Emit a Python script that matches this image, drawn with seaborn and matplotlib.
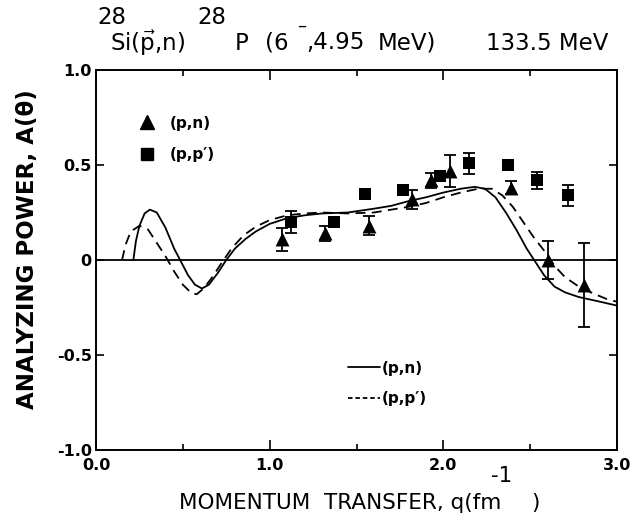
import matplotlib
matplotlib.use("Agg")
import matplotlib.pyplot as plt
from matplotlib.lines import Line2D
import seaborn as sns
import pandas as pd


# data
q_pn = [1.07, 1.32, 1.57, 1.82, 1.93, 2.04, 2.39, 2.60, 2.81]
a_pn = [0.11, 0.14, 0.18, 0.32, 0.42, 0.47, 0.38, 0.0, -0.13]
err_pn = [0.06, 0.04, 0.05, 0.05, 0.04, 0.085, 0.035, 0.10, 0.22]

q_pp = [1.12, 1.37, 1.55, 1.77, 1.98, 2.15, 2.37, 2.54, 2.72]
a_pp = [0.20, 0.20, 0.35, 0.37, 0.44, 0.51, 0.50, 0.42, 0.34]
err_pp = [0.06, 0.02, 0.02, 0.02, 0.02, 0.055, 0.02, 0.045, 0.055]

# calculated curves
q_th_pn = [0.215, 0.23, 0.25, 0.28, 0.31, 0.35, 0.40, 0.45, 0.49, 0.53, 0.57, 0.61, 0.65, 0.70,
           0.75, 0.80, 0.86, 0.92, 1.00, 1.10, 1.20, 1.30, 1.45, 1.60, 1.70, 1.80, 1.90,
           2.00, 2.10, 2.18, 2.24, 2.30, 2.36, 2.42, 2.48, 2.53, 2.58, 2.64, 2.70, 2.78,
           2.88, 3.00]
a_th_pn = [0.0, 0.10, 0.18, 0.245, 0.265, 0.25, 0.17, 0.06, -0.01, -0.08, -0.13, -0.15, -0.13,
           -0.07, 0.0, 0.06, 0.11, 0.15, 0.19, 0.22, 0.235, 0.245, 0.25, 0.27, 0.285, 0.31, 0.33,
           0.355, 0.375, 0.385, 0.375, 0.33, 0.25, 0.16, 0.06, -0.01, -0.08, -0.14, -0.17,
           -0.195, -0.215, -0.24]

q_th_pp = [0.15, 0.17, 0.20, 0.25, 0.30, 0.35, 0.40, 0.45, 0.50, 0.55, 0.58, 0.62, 0.67,
           0.72, 0.78, 0.85, 0.92, 1.00, 1.10, 1.20, 1.30, 1.45, 1.60, 1.70, 1.80, 1.90,
           2.00, 2.10, 2.20, 2.28, 2.34, 2.40, 2.46, 2.52, 2.58, 2.64, 2.70, 2.78, 2.86,
           2.94, 3.00]
a_th_pp = [0.0, 0.08, 0.15, 0.18, 0.16, 0.09, 0.02, -0.06, -0.13, -0.175, -0.18, -0.15, -0.09,
           -0.02, 0.06, 0.13, 0.175, 0.21, 0.235, 0.245, 0.25, 0.245, 0.25, 0.265, 0.28, 0.30,
           0.33, 0.355, 0.375, 0.375, 0.34, 0.28, 0.20, 0.12, 0.05, -0.03, -0.09, -0.14, -0.175,
           -0.205, -0.22]

x_ticks = [0.0, 1.0, 2.0, 3.0]
x_ticklabels = ["0.0", "1.0", "2.0", "3.0"]
y_ticks = [1.0, 0.5, 0.0, -0.5, -1.0]
y_ticklabels = ["1.0", "0.5", "0", "-0.5", "-1.0"]

df_pn = pd.DataFrame({"q": q_pn, "A": a_pn})
df_pp = pd.DataFrame({"q": q_pp, "A": a_pp})

sns.set_style("ticks")
plt.rcParams["font.family"] = ["DejaVu Sans"]
plt.rcParams["text.color"] = "black"
plt.rcParams["axes.labelcolor"] = "black"
plt.rcParams["xtick.color"] = "black"
plt.rcParams["ytick.color"] = "black"

fig = plt.figure(figsize=(6.35, 5.22), dpi=100)
ax = fig.add_axes([96 / 635, 1 - 450 / 522, 521 / 635, 380 / 522])

ax.axhline(0, color="black", lw=1.3, zorder=1)

sns.lineplot(x=q_th_pn, y=a_th_pn, ax=ax, color="black", lw=1.3, sort=False, estimator=None)
sns.lineplot(x=q_th_pp, y=a_th_pp, ax=ax, color="black", lw=1.3, sort=False, estimator=None,
             linestyle=(0, (5.5, 3.5)))

ax.errorbar(q_pn, a_pn, yerr=err_pn, fmt="none", ecolor="black", elinewidth=1.3,
            capsize=4, capthick=1.3, zorder=3)
ax.errorbar(q_pp, a_pp, yerr=err_pp, fmt="none", ecolor="black", elinewidth=1.3,
            capsize=4, capthick=1.3, zorder=3)
sns.scatterplot(data=df_pn, x="q", y="A", ax=ax, marker="^", s=100, color="black",
                edgecolor="black", linewidth=0, zorder=4)
sns.scatterplot(data=df_pp, x="q", y="A", ax=ax, marker="s", s=72, color="black",
                edgecolor="black", linewidth=0, zorder=4)

ax.set_xlim(0, 3.0)
ax.set_ylim(-1.0, 1.0)
ax.set_xlabel("")
ax.set_ylabel("")

ax.set_xticks(x_ticks)
ax.set_xticklabels(x_ticklabels, fontsize=11.5, fontweight="bold")
ax.set_xticks([0.5, 1.5, 2.5], minor=True)
ax.set_yticks(y_ticks)
ax.set_yticklabels(y_ticklabels, fontsize=11.5, fontweight="bold")
ax.tick_params(axis="x", which="major", direction="in", length=7, width=1.2,
               top=True, bottom=True, pad=6)
ax.tick_params(axis="x", which="minor", direction="in", length=4.5, width=1.2,
               top=True, bottom=True)
ax.tick_params(axis="y", which="major", direction="in", length=6, width=1.2,
               left=True, right=True, pad=3)
for sp in ax.spines.values():
    sp.set_visible(True)
    sp.set_linewidth(1.4)
    sp.set_color("black")

# legends
h_pn = Line2D([], [], marker="^", color="black", ls="none", markersize=10)
h_pp = Line2D([], [], marker="s", color="black", ls="none", markersize=8.5)
leg1 = ax.legend([h_pn, h_pp], ["(p,n)", "(p,p\u2032)"], loc="upper left",
                 bbox_to_anchor=(0.068, 0.90), frameon=False, borderpad=0,
                 handlelength=1.0, handletextpad=1.0, labelspacing=1.1,
                 prop={"size": 11, "weight": "bold"})
ax.add_artist(leg1)
h_l1 = Line2D([], [], color="black", lw=1.3)
h_l2 = Line2D([], [], color="black", lw=1.3, linestyle=(0, (2.5, 1.6)))
ax.legend([h_l1, h_l2], ["(p,n)", "(p,p\u2032)"], loc="upper left",
          bbox_to_anchor=(0.469, 0.255), frameon=False, borderpad=0,
          handlelength=2.1, handletextpad=0.1, labelspacing=1.0,
          prop={"size": 11, "weight": "bold"})

# title pieces
fs = 16.5
fig.text(97 / 635, 1 - 17 / 522, "28", fontsize=fs, va="center", ha="left")
fig.text(110 / 635, 1 - 43 / 522, r"Si($\vec{\mathrm{p}}$,n)", fontsize=fs, va="center", ha="left")
fig.text(197 / 635, 1 - 17 / 522, "28", fontsize=fs, va="center", ha="left")
fig.text(235 / 635, 1 - 43 / 522, "P", fontsize=fs, va="center", ha="left")
fig.text(265 / 635, 1 - 43 / 522, "(6", fontsize=fs, va="center", ha="left")
fig.text(297 / 635, 1 - 26 / 522, "\u2013", fontsize=13, va="center", ha="left")
fig.text(306 / 635, 1 - 43 / 522, ",4.95", fontsize=fs, va="center", ha="left")
fig.text(378 / 635, 1 - 43 / 522, "MeV)", fontsize=fs, va="center", ha="left")
fig.text(608 / 635, 1 - 43 / 522, "133.5 MeV", fontsize=fs, va="center", ha="right")

# axis labels
fig.text(28 / 635, 1 - 249 / 522, "ANALYZING POWER, A(\u03b8)", fontsize=16.5,
         fontweight="bold", rotation=90, va="center", ha="center")
fig.text(179 / 635, 1 - 503 / 522, "MOMENTUM  TRANSFER, q(fm", fontsize=15.5,
         va="center", ha="left")
fig.text(491 / 635, 1 - 476 / 522, "-1", fontsize=15.5, va="center", ha="left")
fig.text(531 / 635, 1 - 503 / 522, ")", fontsize=15.5, va="center", ha="left")

fig.savefig("out.png", dpi=100)
